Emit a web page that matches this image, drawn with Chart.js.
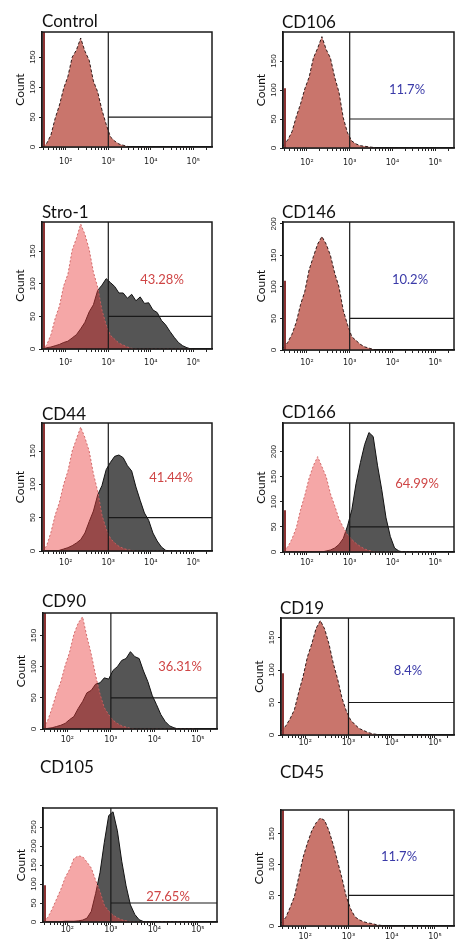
<!DOCTYPE html>
<html>
<head>
<meta charset="utf-8">
<script src="https://cdn.jsdelivr.net/npm/chart.js@4"></script>
<style>
  body { margin: 0; width: 455px; height: 939px; overflow: hidden; background: #fff; position: relative; }
  canvas { position: absolute; }
</style>
</head>
<body>
<script>
// fluorescence bins (log10 of intensity), shared by every histogram
const logBins = [1.45,1.55,1.65,1.75,1.85,1.95,2.05,2.15,2.25,2.35,2.45,2.55,2.65,2.75,2.85,2.95,3.05,3.15,3.25,3.35,3.45,3.55,3.65,3.75,3.85,3.95,4.05,4.15,4.25,4.35,4.45,4.55,4.65,4.75,4.85,4.95];

const markers = ['Control', 'CD106', 'Stro-1', 'CD146', 'CD44', 'CD166', 'CD90', 'CD19', 'CD105', 'CD45'];
const gatePercent = [null, '11.7%', '43.28%', '10.2%', '41.44%', '64.99%', '36.31%', '8.4%', '27.65%', '11.7%'];
const positive = [false, false, true, false, true, true, true, false, true, false];
const countMax = [192, 200, 195, 203, 192, 257, 186, 180, 300, 189];
const countTicks = [
  [0, 50, 100, 150], [0, 50, 100, 150], [0, 50, 100, 150], [0, 50, 100, 150, 200], [0, 50, 100, 150],
  [0, 50, 100, 150, 200], [0, 50, 100, 150], [0, 50, 100, 150], [0, 50, 100, 150, 200, 250], [0, 50, 100, 150]
];
const edgePile = [192, 103, 195, 110, 192, 83, 186, 95, 97, 189];
const gateLog = 3;
const gateCount = 50;
const majorLogs = [2, 3, 4, 5];
const xTickLabels = ['10²', '10³', '10⁴', '10⁵'];

// isotype control (pink) and stained sample counts per bin
const controlStain = [0,6,20,48,70,98,118,150,162,182,160,145,110,92,62,38,17,10,5,3,1,0,0,0,0,0,0,0,0,0,0,0,0,0,0,0];
const cd106Stain   = [4,14,28,54,76,102,122,155,172,192,170,155,122,96,52,26,12,7,4,3,2,1,0,0,0,0,0,0,0,0,0,0,0,0,0,0];
const stro1Iso     = [0,6,22,47,66,97,115,152,170,192,176,153,118,95,60,37,21,15,9,6,3,1,0,0,0,0,0,0,0,0,0,0,0,0,0,0];
const stro1Stain   = [0,2,3,5,7,10,12,17,22,31,41,57,68,90,98,108,102,96,86,86,78,84,74,80,70,71,60,56,44,37,27,18,10,5,2,0];
const cd146Stain   = [3,12,25,44,72,93,127,148,168,180,168,150,122,100,63,40,21,15,9,5,3,1,0,0,0,0,0,0,0,0,0,0,0,0,0,0];
const cd44Iso      = [0,8,28,54,73,100,120,150,168,186,170,150,116,90,54,33,19,12,7,4,2,1,0,0,0,0,0,0,0,0,0,0,0,0,0,0];
const cd44Stain    = [0,0,0,0,1,3,5,8,12,17,27,44,60,84,98,122,133,142,144,140,128,120,96,76,57,46,27,15,6,1,0,0,0,0,0,0];
const cd166Iso     = [3,10,26,48,84,113,147,172,190,170,150,116,92,66,49,34,25,17,11,6,3,1,0,0,0,0,0,0,0,0,0,0,0,0,0,0];
const cd166Stain   = [0,0,0,0,0,0,0,0,0,0,2,4,8,15,27,52,84,137,178,214,238,230,173,124,68,31,8,2,0,0,0,0,0,0,0,0];
const cd90Iso      = [2,14,34,57,76,102,123,152,170,180,148,120,86,56,34,23,14,9,5,3,1,0,0,0,0,0,0,0,0,0,0,0,0,0,0,0];
const cd90Stain    = [0,1,2,4,6,9,15,20,33,44,58,62,72,74,82,80,94,100,110,113,124,116,113,93,76,54,39,23,12,5,2,0,0,0,0,0];
const cd19Stain    = [6,14,25,39,66,90,120,140,164,176,163,140,110,86,57,37,23,16,10,7,4,2,1,0,0,0,0,0,0,0,0,0,0,0,0,0];
const cd105Iso     = [3,12,34,60,86,117,138,167,174,172,158,142,110,80,44,29,18,11,6,3,1,0,0,0,0,0,0,0,0,0,0,0,0,0,0,0];
const cd105Stain   = [0,0,1,1,1,2,2,2,3,5,10,28,75,130,210,280,290,240,160,95,45,20,6,1,0,0,0,0,0,0,0,0,0,0,0,0];
const cd45Stain    = [5,14,30,48,80,112,135,155,168,176,172,155,132,105,78,48,28,15,10,7,5,4,2,1,0,0,0,0,0,0,0,0,0,0,0,0];

const isoSeries   = [null, null, stro1Iso, null, cd44Iso, cd166Iso, cd90Iso, null, cd105Iso, null];
const stainSeries = [controlStain, cd106Stain, stro1Stain, cd146Stain, cd44Stain, cd166Stain, cd90Stain, cd19Stain, cd105Stain, cd45Stain];

// page layout: plot box of each panel, label offsets
const boxes = [
  {l: 42, t: 32, r: 212, b: 147}, {l: 283, t: 32, r: 454, b: 148},
  {l: 42, t: 222, r: 212, b: 349}, {l: 283, t: 222, r: 454, b: 350},
  {l: 42, t: 423, r: 212, b: 551}, {l: 283, t: 423, r: 454, b: 552},
  {l: 43, t: 613, r: 217, b: 729}, {l: 281, t: 618, r: 454, b: 735},
  {l: 43, t: 808, r: 217, b: 922}, {l: 281, t: 810, r: 454, b: 926}
];
const titleOffset = [[0, -10], [-1, -9], [0, -9], [-1, -9], [0, -8], [-1, -10], [-1, -11], [-1, -9], [-3, -40], [-1, -37]];
const pctOffset = [null, [124, 58], [120, 58], [127, 58], [129, 55], [134, 61], [137, 54], [127, 53], [125, 89], [118, 47]];
const tickGap = [15, 15, 14, 13, 12, 11, 11, 8, 8, 11];

const AXIS_W = 42, AXIS_H = 22, TOP_PAD = 52, RIGHT_PAD = 6;
const X_MIN = 1.44, X_MAX = 5.44;

const xTickValues = [];
for (let d = 1; d <= 5; d++) {
  for (let k = 1; k <= 9; k++) {
    const v = k === 1 ? d : d + Math.log10(k);
    if (v >= X_MIN && v <= X_MAX) xTickValues.push(v);
  }
}

const panelDecor = {
  id: 'panelDecor',
  afterDatasetsDraw(chart, args, o) {
    const {ctx, chartArea: a, scales: {x, y}} = chart;
    ctx.save();
    // events piled at the low edge
    ctx.strokeStyle = '#8c3434';
    ctx.lineWidth = 2;
    ctx.beginPath();
    ctx.moveTo(a.left + 2, a.bottom);
    ctx.lineTo(a.left + 2, Math.max(a.top, y.getPixelForValue(o.pile)));
    ctx.stroke();
    // gate
    const gx = x.getPixelForValue(gateLog), gy = y.getPixelForValue(gateCount);
    ctx.strokeStyle = '#1a1a1a';
    ctx.lineWidth = 1.2;
    ctx.beginPath();
    ctx.moveTo(gx, a.bottom); ctx.lineTo(gx, a.top);
    ctx.moveTo(gx, gy); ctx.lineTo(a.right, gy);
    ctx.stroke();
    // frame
    ctx.lineWidth = 1.5;
    ctx.strokeRect(a.left, a.top, a.right - a.left, a.bottom - a.top);
    // marker name
    ctx.fillStyle = '#111';
    ctx.font = '17px Lato';
    ctx.textBaseline = 'middle';
    ctx.textAlign = 'left';
    ctx.fillText(o.title, a.left + o.titleDx, a.top + o.titleDy);
    if (o.pct) {
      ctx.fillStyle = o.pctColor;
      ctx.font = '13px Lato';
      ctx.textAlign = 'center';
      ctx.fillText(o.pct, a.left + o.pctDx, a.top + o.pctDy);
    }
    ctx.restore();
  }
};

const toPoints = arr => logBins.map((b, i) => ({x: b, y: arr[i]}));

markers.forEach((name, i) => {
  const bx = boxes[i];
  const canvas = document.createElement('canvas');
  const w = AXIS_W + (bx.r - bx.l) + RIGHT_PAD;
  const h = TOP_PAD + (bx.b - bx.t) + AXIS_H;
  canvas.width = w; canvas.height = h;
  canvas.style.left = (bx.l - AXIS_W) + 'px';
  canvas.style.top = (bx.t - TOP_PAD) + 'px';
  document.body.appendChild(canvas);

  const datasets = [];
  if (isoSeries[i]) {
    datasets.push({
      data: toPoints(isoSeries[i]), order: 1,
      backgroundColor: 'rgba(232,60,60,0.45)', fill: 'origin',
      borderColor: 'rgba(205,95,95,0.9)', borderWidth: 1, borderDash: [2, 2]
    });
  }
  datasets.push(positive[i] ? {
    data: toPoints(stainSeries[i]), order: 2,
    backgroundColor: 'rgba(55,55,55,0.85)', fill: 'origin',
    borderColor: '#111', borderWidth: 1
  } : {
    data: toPoints(stainSeries[i]), order: 2,
    backgroundColor: '#c9756c', fill: 'origin',
    borderColor: 'rgba(20,0,0,0.85)', borderWidth: 1, borderDash: [3, 2]
  });

  new Chart(canvas, {
    type: 'line',
    data: {datasets},
    plugins: [panelDecor],
    options: {
      responsive: false,
      animation: false,
      layout: {padding: {top: TOP_PAD, right: RIGHT_PAD, left: 0, bottom: 0}},
      elements: {point: {radius: 0}, line: {tension: 0}},
      plugins: {
        legend: {display: false},
        tooltip: {enabled: false},
        panelDecor: {
          title: name, titleDx: titleOffset[i][0], titleDy: titleOffset[i][1],
          pct: gatePercent[i], pctColor: positive[i] ? '#cf4646' : '#3a3aa8',
          pctDx: pctOffset[i] ? pctOffset[i][0] : 0, pctDy: pctOffset[i] ? pctOffset[i][1] : 0,
          pile: edgePile[i]
        }
      },
      scales: {
        x: {
          type: 'linear', min: X_MIN, max: X_MAX,
          afterBuildTicks: s => { s.ticks = xTickValues.map(v => ({value: v})); },
          afterFit: s => { s.height = AXIS_H; },
          border: {color: '#111', width: 1.5},
          grid: {drawOnChartArea: false, tickLength: 3, color: '#222'},
          ticks: {
            autoSkip: false, maxRotation: 0, padding: tickGap[i] - 8, color: '#222',
            font: {family: '"DejaVu Sans", Arial', size: 8},
            callback: v => { const k = majorLogs.indexOf(v); return k >= 0 ? xTickLabels[k] : ''; }
          }
        },
        y: {
          min: 0, max: countMax[i],
          afterBuildTicks: s => { s.ticks = countTicks[i].map(v => ({value: v})); },
          afterFit: s => { s.width = AXIS_W; },
          border: {color: '#111', width: 1.5},
          grid: {drawOnChartArea: false, tickLength: 3, color: '#222'},
          ticks: {
            autoSkip: false, minRotation: 90, maxRotation: 90, crossAlign: 'center', padding: 0, color: '#222',
            font: {family: 'Arial, "Liberation Sans"', size: 8}
          },
          title: {display: true, text: 'Count', color: '#111', font: {family: 'Lato', size: 12}, padding: {top: 13, bottom: 0}}
        }
      }
    }
  });
});
</script>
</body>
</html>
